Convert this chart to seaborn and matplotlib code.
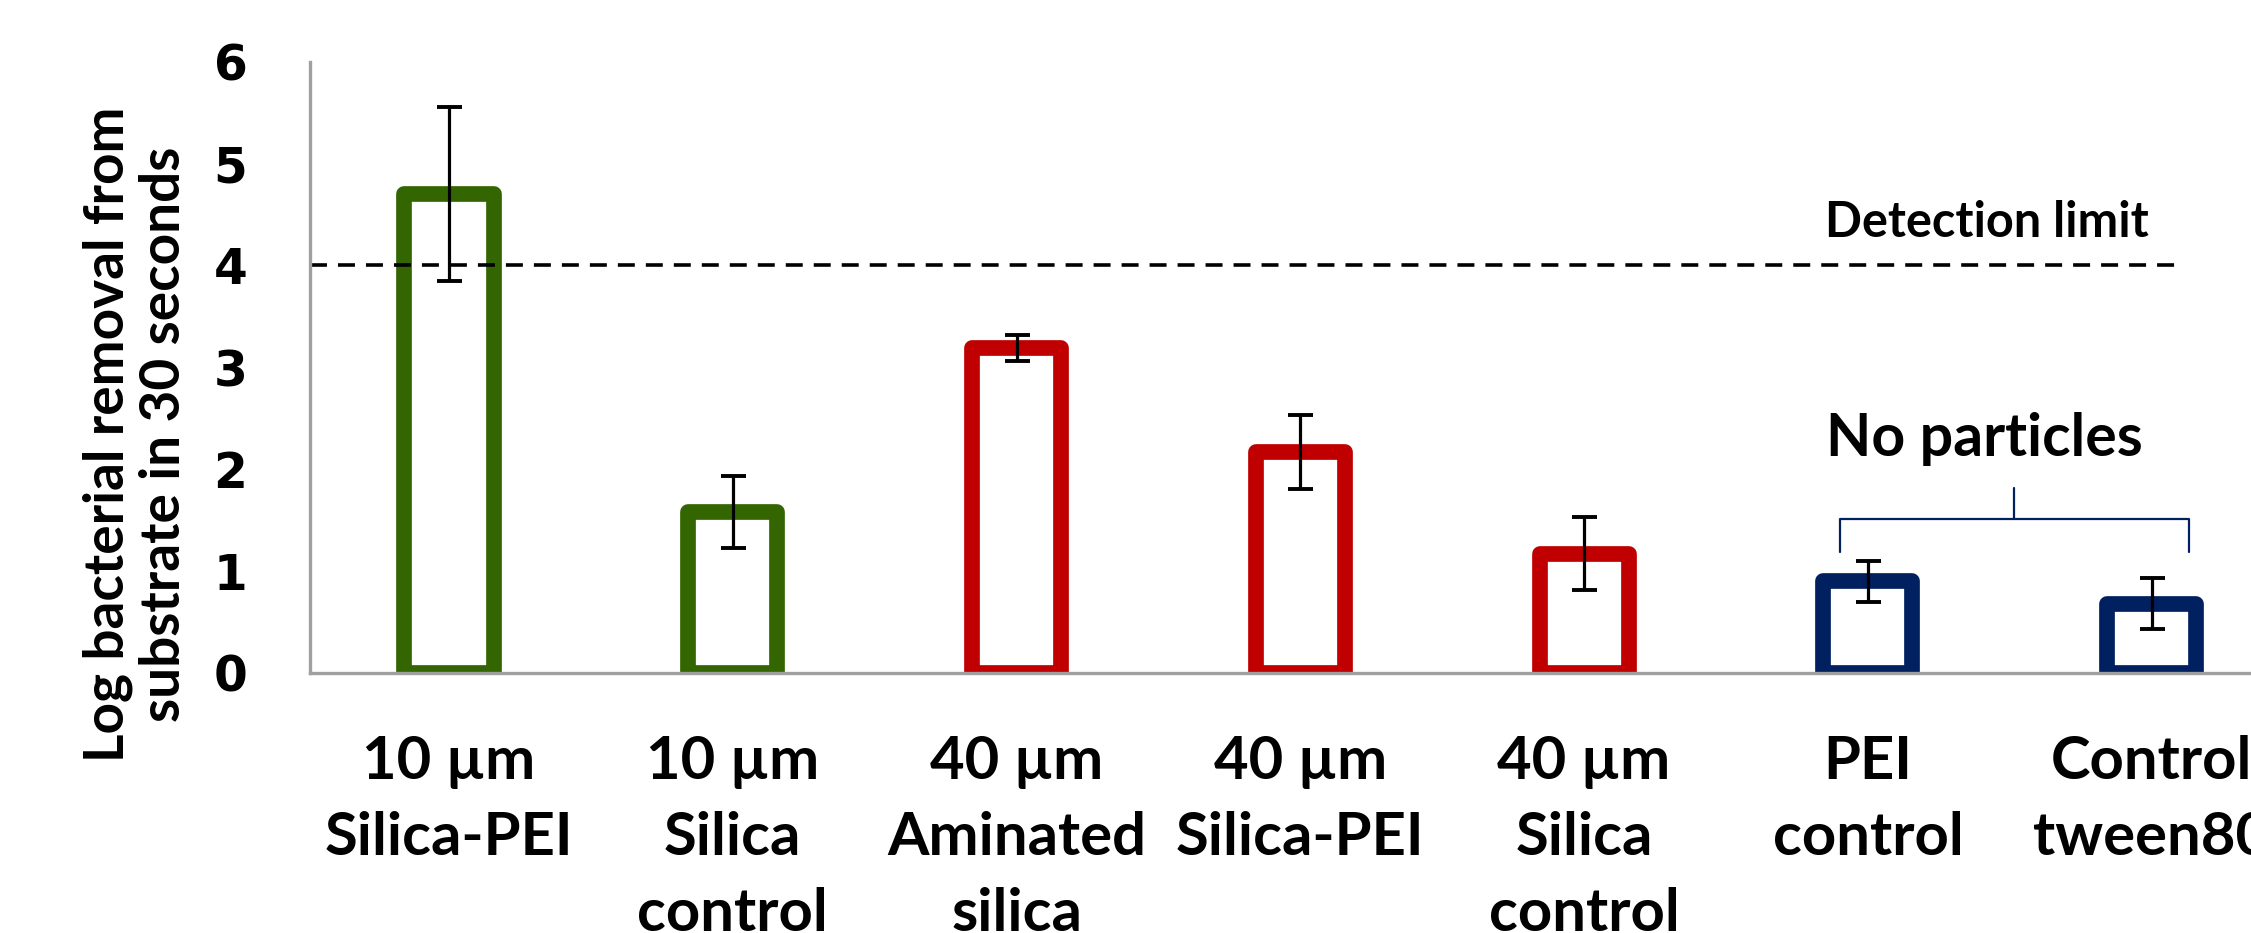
import matplotlib
matplotlib.use("Agg")
import matplotlib.pyplot as plt
import seaborn as sns
import numpy as np

# Data
categories = ["10 µm\nSilica-PEI", "10 µm\nSilica\ncontrol", "40 µm\nAminated\nsilica",
              "40 µm\nSilica-PEI", "40 µm\nSilica\ncontrol", "PEI\ncontrol", "Control\ntween80"]
log_removal = [4.70, 1.58, 3.19, 2.17, 1.17, 0.90, 0.68]
errors = [0.85, 0.35, 0.13, 0.36, 0.36, 0.20, 0.25]
bar_colors = ["#336600", "#336600", "#C00000", "#C00000", "#C00000", "#002060", "#002060"]
y_ticks = [0, 1, 2, 3, 4, 5, 6]
detection_limit = 4.0

sns.set_theme(style="white")
plt.rcParams["font.family"] = ["Lato", "DejaVu Sans"]
plt.rcParams["text.color"] = "black"
plt.rcParams["axes.labelcolor"] = "black"
plt.rcParams["xtick.color"] = "black"
plt.rcParams["ytick.color"] = "black"

fig = plt.figure(figsize=(22.51, 9.33), dpi=100)
ax = fig.add_axes([0.1377, 0.2787, 0.8623, 0.6553])

sns.barplot(x=categories, y=log_removal, hue=categories, palette=bar_colors,
            fill=False, width=0.314, linewidth=11.3, legend=False, ax=ax)
for p in ax.patches:
    p.set_joinstyle("round")

x_pos = np.arange(len(categories))
ax.errorbar(x_pos, log_removal, yerr=errors, fmt="none", ecolor="black",
            elinewidth=2.3, capsize=9, capthick=2.8, zorder=5)

# Detection limit line and label
ax.plot([-0.49, 6.10], [detection_limit, detection_limit], color="black",
        linestyle=(0, (4.7, 3.05)), linewidth=2.6, zorder=4, clip_on=False)
ax.text(5.42, 4.42, "Detection limit", ha="center", va="center",
        fontsize=35, fontweight="bold", color="black")

# Bracket over the controls without particles
navy = "#002060"
ax.plot([4.90, 4.90, 6.13, 6.13], [1.19, 1.514, 1.514, 1.19], color=navy,
        linewidth=1.6, clip_on=False)
ax.plot([5.514, 5.514], [1.514, 1.82], color=navy, linewidth=1.6, clip_on=False)
ax.text(5.41, 2.30, "No particles", ha="center", va="center",
        fontsize=42.5, fontweight="bold", color="black")

ax.set_xlim(-0.49, 6.35)
ax.set_ylim(0, 6)
ax.set_yticks(y_ticks)
ax.set_yticklabels([str(t) for t in y_ticks], fontfamily="DejaVu Sans",
                   fontweight="bold", fontsize=35)
ax.set_xticks(x_pos)
ax.set_xticklabels(categories, fontsize=43, fontweight="bold", linespacing=1.49)
ax.tick_params(axis="y", length=0, pad=45)
ax.tick_params(axis="x", length=0, pad=45)

for side in ["top", "right"]:
    ax.spines[side].set_visible(False)
for side in ["left", "bottom"]:
    ax.spines[side].set_color("#A0A0A0")
    ax.spines[side].set_linewidth(2.4)
    ax.spines[side].set_zorder(6)

ylab = ax.set_ylabel("Log bacterial removal from\nsubstrate in 30 seconds",
                     fontsize=39.5, fontweight="bold", linespacing=1.15)
ylab.set_ha("center")
ylab.set_va("center")
ax.yaxis.set_label_coords(-0.0896, 0.391)

fig.savefig("out.png", dpi=100)
